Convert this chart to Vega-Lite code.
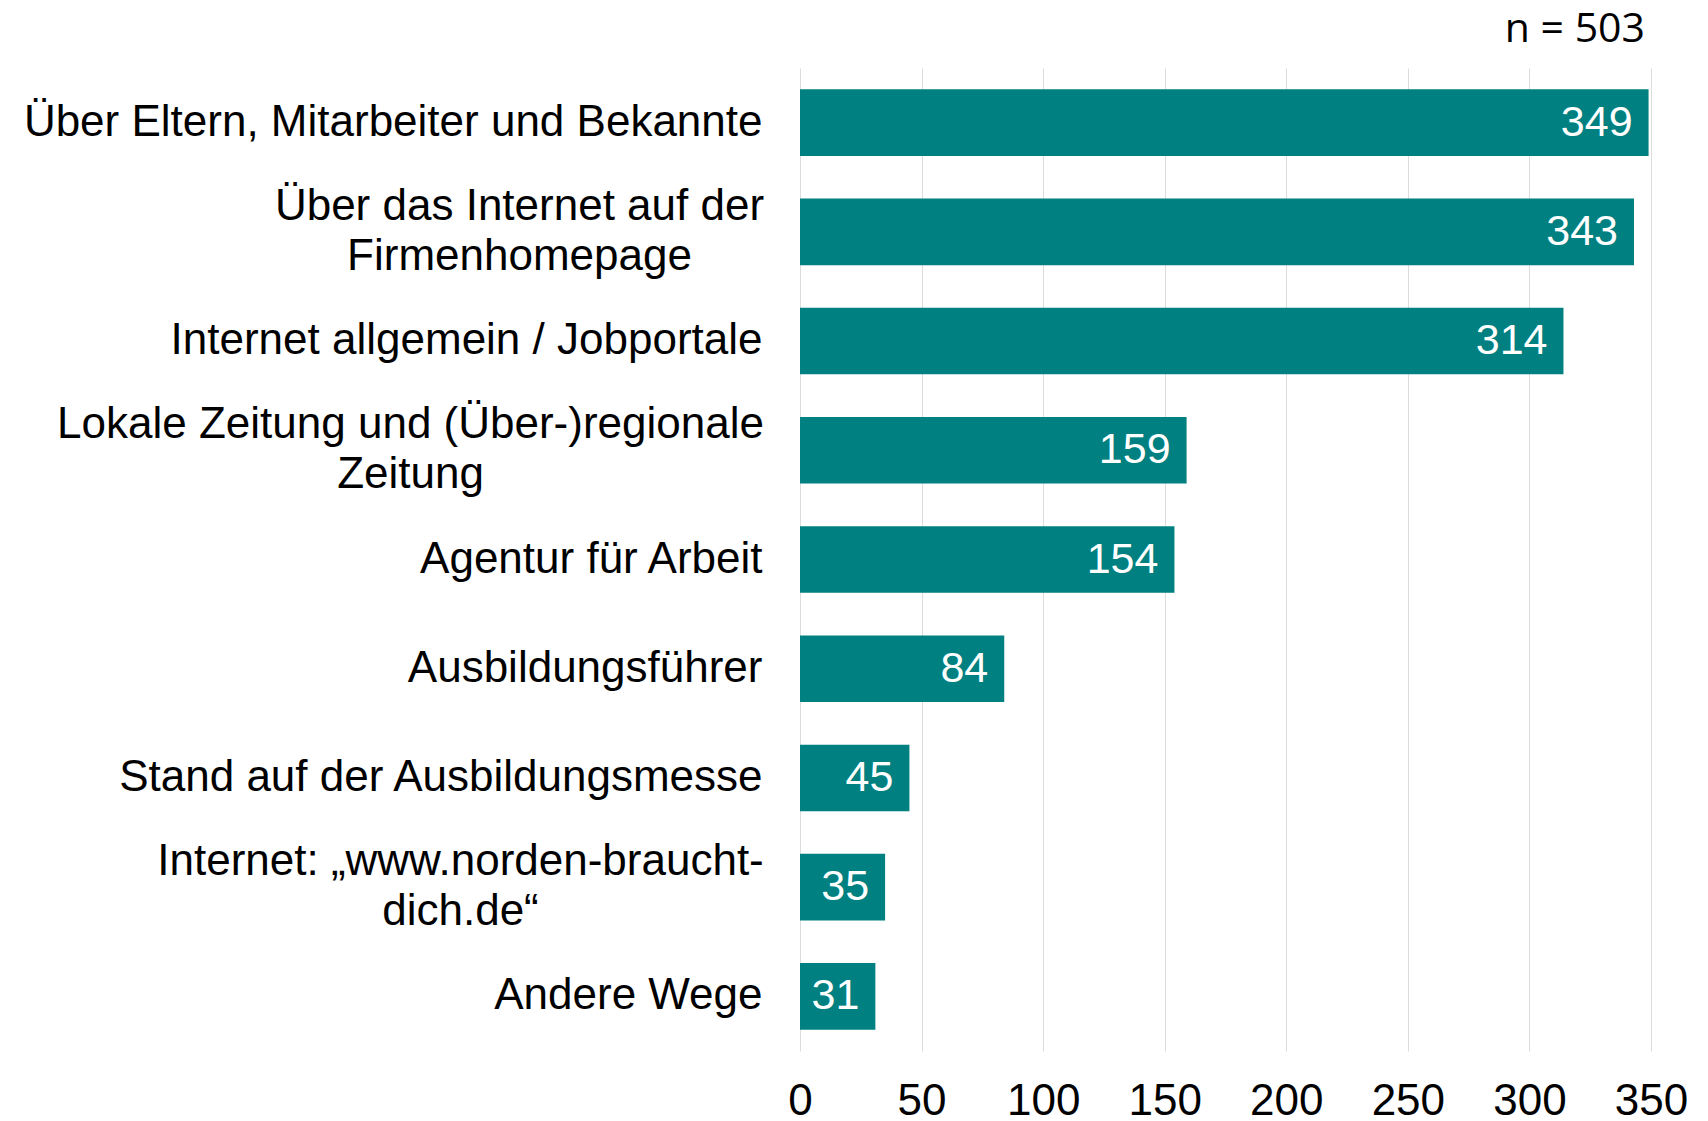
{
  "$schema": "https://vega.github.io/schema/vega-lite/v6.json",
  "width": 851,
  "height": 983,
  "autosize": "none",
  "padding": {"left": 800, "top": 68, "right": 57, "bottom": 70},
  "background": "white",
  "title": {"text": "n = 503", "anchor": "end", "frame": "group", "font": "Open Sans", "fontSize": 41, "fontWeight": "normal", "color": "black", "offset": 17, "dx": -6},
  "config": {"view": {"stroke": null}},
  "data": {"values": [
    {"label": "Über Eltern, Mitarbeiter und Bekannte", "value": 349},
    {"label": "Über das Internet auf der|Firmenhomepage", "value": 343},
    {"label": "Internet allgemein / Jobportale", "value": 314},
    {"label": "Lokale Zeitung und (Über-)regionale|Zeitung", "value": 159},
    {"label": "Agentur für Arbeit", "value": 154},
    {"label": "Ausbildungsführer", "value": 84},
    {"label": "Stand auf der Ausbildungsmesse", "value": 45},
    {"label": "Internet: „www.norden-braucht-|dich.de“", "value": 35},
    {"label": "Andere Wege", "value": 31}
  ]},
  "encoding": {
    "y": {
      "field": "label", "type": "nominal", "sort": null,
      "scale": {"paddingInner": 0.39, "paddingOuter": 0.195},
      "axis": {
        "title": null, "domain": false, "ticks": false, "grid": false,
        "labelExpr": "split(datum.label, '|')",
        "labelFont": "Liberation Sans", "labelFontSize": 44, "labelColor": "black",
        "labelLineHeight": 50, "labelLimit": 0, "labelBaseline": "middle",
        "labelAlign": {"condition": {"test": "indexof(datum.value, '|') >= 0", "value": "center"}, "value": "right"},
        "labelOffset": {"condition": {"test": "indexof(datum.value, '|') >= 0", "value": -25}, "value": 0},
        "labelPadding": {"condition": [
          {"test": "datum.value == 'Über das Internet auf der|Firmenhomepage'", "value": 281},
          {"test": "datum.value == 'Lokale Zeitung und (Über-)regionale|Zeitung'", "value": 390},
          {"test": "indexof(datum.value, 'norden') >= 0", "value": 340}
        ], "value": 38}
      }
    }
  },
  "layer": [
    {
      "mark": {"type": "bar", "color": "#008080"},
      "encoding": {
        "x": {
          "field": "value", "type": "quantitative",
          "scale": {"domain": [0, 350], "nice": false},
          "axis": {
            "title": null, "domain": false, "ticks": false, "grid": true,
            "gridColor": "#dcdcdc", "gridWidth": 1,
            "values": [0, 50, 100, 150, 200, 250, 300, 350],
            "labelFont": "Liberation Sans", "labelFontSize": 44, "labelColor": "black",
            "labelPadding": 28, "labelFlush": false, "labelOverlap": false
          }
        }
      }
    },
    {
      "mark": {"type": "text", "align": "right", "baseline": "middle", "dx": -16, "color": "white", "fontSize": 43, "font": "Liberation Sans"},
      "encoding": {
        "x": {"field": "value", "type": "quantitative"},
        "text": {"field": "value", "type": "quantitative"}
      }
    }
  ]
}
